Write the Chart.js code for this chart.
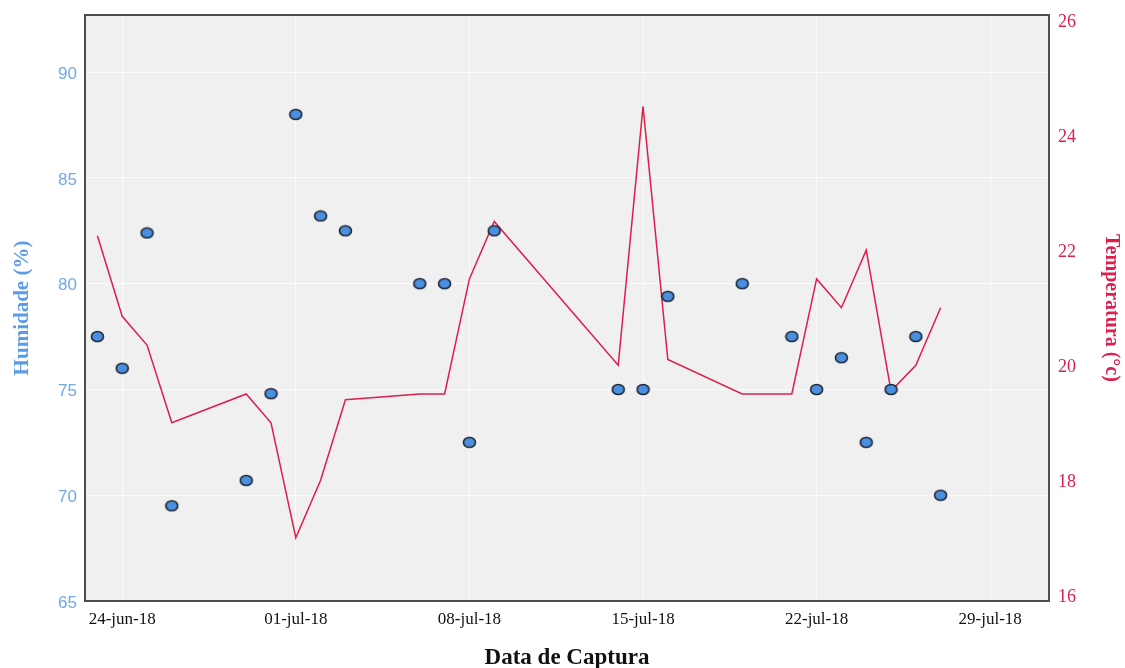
<!DOCTYPE html>
<html>
<head>
<meta charset="utf-8">
<title>Humidade e Temperatura</title>
<script src="https://cdn.jsdelivr.net/npm/chart.js@4/dist/chart.umd.min.js"></script>
<style>
  html, body { margin: 0; padding: 0; background: #ffffff; }
  canvas { display: block; }
</style>
</head>
<body>
<canvas id="chart" width="1125" height="668"></canvas>
<script>
// Capture dates and the readings taken on each day
const captureDates = [
  '2018-06-23','2018-06-24','2018-06-25','2018-06-26','2018-06-29','2018-06-30',
  '2018-07-01','2018-07-02','2018-07-03','2018-07-06','2018-07-07','2018-07-08',
  '2018-07-09','2018-07-14','2018-07-15','2018-07-16','2018-07-19','2018-07-21',
  '2018-07-22','2018-07-23','2018-07-24','2018-07-25','2018-07-26','2018-07-27'
];
const humidity = [
  77.5, 76, 82.4, 69.5, 70.7, 74.8,
  88, 83.2, 82.5, 80, 80, 72.5,
  82.5, 75, 75, 79.4, 80, 77.5,
  75, 76.5, 72.5, 75, 77.5, 70
];
const temperature = [
  22.25, 20.85, 20.35, 19, 19.5, 19,
  17, 18, 19.4, 19.5, 19.5, 21.5,
  22.5, 20, 24.5, 20.1, 19.5, 19.5,
  21.5, 21, 22, 19.55, 20, 21
];

// Axis ticks
const dateTickDates = ['2018-06-24','2018-07-01','2018-07-08','2018-07-15','2018-07-22','2018-07-29'];
const dateTickLabels = ['24-jun-18','01-jul-18','08-jul-18','15-jul-18','22-jul-18','29-jul-18'];
const humidityTicks = [65, 70, 75, 80, 85, 90];
const temperatureTicks = [16, 18, 20, 22, 24, 26];

// Days counted from 24-jun-18
const DAY = 86400000;
const ORIGIN = Date.parse('2018-06-24T00:00:00Z');
function dayIndex(iso) { return (Date.parse(iso + 'T00:00:00Z') - ORIGIN) / DAY; }

const humidityPoints = captureDates.map((d, i) => ({ x: dayIndex(d), y: humidity[i] }));
const temperaturePoints = captureDates.map((d, i) => ({ x: dayIndex(d), y: temperature[i] }));

// Slightly flattened marker used for the humidity readings
function makeMarker() {
  const c = document.createElement('canvas');
  c.width = 15; c.height = 13;
  const g = c.getContext('2d');
  g.beginPath();
  g.ellipse(7.5, 6.5, 6, 5, 0, 0, Math.PI * 2);
  g.fillStyle = '#4a8fe0';
  g.fill();
  g.lineWidth = 1.6;
  g.strokeStyle = '#1f2733';
  g.stroke();
  return c;
}

// Grey plot background and dark frame round the plot area
const plotFrame = {
  id: 'plotFrame',
  beforeDraw(chart) {
    const { ctx, chartArea: a } = chart;
    ctx.save();
    ctx.fillStyle = '#f0f0f0';
    ctx.fillRect(a.left, a.top, a.right - a.left, a.bottom - a.top);
    ctx.restore();
  },
  afterDraw(chart) {
    const { ctx, chartArea: a } = chart;
    ctx.save();
    ctx.strokeStyle = '#4d4d4d';
    ctx.lineWidth = 2;
    ctx.strokeRect(a.left, a.top, a.right - a.left, a.bottom - a.top);
    ctx.restore();
  }
};

// Fixed axis box sizes, without extra room reserved for end labels
function fixBox(size) {
  return s => {
    if (s.isHorizontal()) { s.height = size; } else { s.width = size; }
    s.paddingTop = 0; s.paddingBottom = 0; s.paddingLeft = 0; s.paddingRight = 0;
  };
}

const blueLabel = '#72a8ea';
const blueTitle = '#5b9ce6';
const red = '#dc1f4c';

new Chart(document.getElementById('chart'), {
  type: 'scatter',
  data: {
    datasets: [
      {
        label: 'Humidade (%)',
        data: humidityPoints,
        yAxisID: 'yH',
        showLine: false,
        pointStyle: makeMarker(),
        pointRadius: 6,
        order: 0
      },
      {
        type: 'line',
        label: 'Temperatura (°c)',
        data: temperaturePoints,
        yAxisID: 'yT',
        borderColor: red,
        borderWidth: 1.5,
        pointRadius: 0,
        tension: 0,
        fill: false,
        order: 1
      }
    ]
  },
  options: {
    responsive: false,
    animation: false,
    events: [],
    layout: { padding: { top: 15, left: 0, right: 0, bottom: 0 } },
    plugins: { legend: { display: false }, tooltip: { enabled: false } },
    scales: {
      x: {
        type: 'linear',
        position: 'bottom',
        min: -1.5,
        max: 37.37,
        afterBuildTicks: s => { s.ticks = dateTickDates.map(d => ({ value: dayIndex(d) })); },
        afterFit: fixBox(67),
        border: { display: false },
        grid: { color: 'rgba(255,255,255,0.75)', lineWidth: 1, drawTicks: false },
        ticks: {
          autoSkip: false,
          maxRotation: 0,
          padding: 8,
          color: '#111111',
          font: { family: '"Liberation Serif", serif', size: 17 },
          callback: (v, i) => dateTickLabels[i]
        },
        title: {
          display: true,
          text: 'Data de Captura',
          color: '#111111',
          padding: { top: 0, bottom: 0 },
          font: { family: '"Liberation Serif", serif', size: 23, weight: 'bold', lineHeight: 0.85 }
        }
      },
      yH: {
        type: 'linear',
        position: 'left',
        min: 65,
        max: 92.7,
        afterBuildTicks: s => { s.ticks = humidityTicks.map(v => ({ value: v })); },
        afterFit: fixBox(85),
        border: { display: false },
        grid: { color: 'rgba(255,255,255,0.75)', lineWidth: 1, drawTicks: false },
        ticks: {
          padding: 8,
          labelOffset: 2,
          color: blueLabel,
          font: { family: '"Liberation Sans", sans-serif', size: 17 }
        },
        title: {
          display: true,
          text: 'Humidade (%)',
          color: blueTitle,
          padding: { top: 10, bottom: 0 },
          font: { family: '"Liberation Serif", serif', size: 21, weight: 'bold', lineHeight: 1.2 }
        }
      },
      yT: {
        type: 'linear',
        position: 'right',
        min: 15.9,
        max: 26.09,
        afterBuildTicks: s => { s.ticks = temperatureTicks.map(v => ({ value: v })); },
        afterFit: fixBox(76),
        border: { display: false },
        grid: { display: false, drawTicks: false },
        ticks: {
          padding: 9,
          labelOffset: 2,
          color: red,
          font: { family: '"Liberation Serif", serif', size: 18 }
        },
        title: {
          display: true,
          text: 'Temperatura (°c)',
          color: red,
          padding: { top: 2, bottom: 0 },
          font: { family: '"Liberation Serif", serif', size: 20, weight: 'bold', lineHeight: 1.2 }
        }
      }
    }
  },
  plugins: [plotFrame]
});
</script>
</body>
</html>
